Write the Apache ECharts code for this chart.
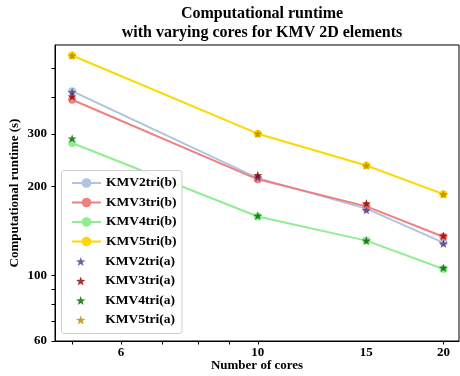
<!DOCTYPE html>
<html><head><meta charset="utf-8">
<script src="https://cdn.jsdelivr.net/npm/echarts@6/dist/echarts.min.js"></script>
<style>html,body{margin:0;padding:0;background:#fff}#c{width:460px;height:376px}</style>
</head><body><div id="c"></div>
<script>
const cores = [5, 10, 15, 20];
const kmv2b = [419, 213, 168, 129];
const kmv3b = [392, 211, 171, 135];
const kmv4b = [280, 158, 131, 105];
const kmv5b = [553, 301, 235, 188];
const kmv2a = [416, 214, 166, 128];
const kmv3a = [402, 218, 175, 136];
const kmv4a = [290, 159, 131, 106];
const kmv5a = [553, 301, 235, 188];
const xTickLabels = [6, 10, 15, 20];
const xTicks = [5, 6, 7, 8, 9, 10, 20];
const yTickLabels = [60, 100, 200, 300];
const yTicks = [60, 70, 80, 90, 100, 200, 300, 400, 500];

const FONT = '"Liberation Serif","Times New Roman",serif';
const STAR = 'path://M0,-10 L2.35,-3.24 L9.51,-3.09 L3.8,1.24 L5.88,8.09 L0,4 L-5.88,8.09 L-3.8,1.24 L-9.51,-3.09 L-2.35,-3.24 Z';
const pair = (xs, ys) => xs.map((x, i) => [x, ys[i]]);

const lineDefs = [
  ['KMV2tri(b)', kmv2b, '#b0c4de'],
  ['KMV3tri(b)', kmv3b, '#f08080'],
  ['KMV4tri(b)', kmv4b, '#90ee90'],
  ['KMV5tri(b)', kmv5b, '#ffd700']
];
const starDefs = [
  ['KMV2tri(a)', kmv2a, '#483d8b'],
  ['KMV3tri(a)', kmv3a, '#8b0000'],
  ['KMV4tri(a)', kmv4a, '#006400'],
  ['KMV5tri(a)', kmv5a, '#b8860b']
];

const series = [];
lineDefs.forEach(([name, ys, c]) => series.push({
  name, type: 'line', data: pair(cores, ys), symbol: 'circle', symbolSize: 8,
  itemStyle: {color: c}, lineStyle: {color: c, width: 2}, animation: false, z: 2
}));
starDefs.forEach(([name, ys, c]) => series.push({
  name, type: 'scatter', data: pair(cores, ys), symbol: STAR, symbolSize: 9, symbolKeepAspect: true,
  itemStyle: {color: c}, animation: false, z: 3
}));

const legendText1 = {fontFamily: FONT, fontWeight: 'bold', fontSize: 13.5, color: '#000', padding: [0, 0, 0, 0]};
const legendText2 = {fontFamily: FONT, fontWeight: 'bold', fontSize: 13.5, color: '#000', padding: [0, 0, 0, 5]};

const chart = echarts.init(document.getElementById('c'), null, {renderer: 'canvas'});
chart.setOption({
  animation: false,
  backgroundColor: '#fff',
  title: {
    text: 'Computational runtime\nwith varying cores for KMV 2D elements',
    left: 257, top: 0, textAlign: 'center',
    textStyle: {fontFamily: FONT, fontWeight: 'bold', fontSize: 16, lineHeight: 18.5, color: '#000'}
  },
  grid: {left: 55, top: 45, width: 404, height: 296, show: true, borderColor: '#000', borderWidth: 1,
         backgroundColor: 'transparent', containLabel: false, outerBoundsMode: 'none'},
  xAxis: {
    type: 'log', min: 4.69, max: 21.2,
    name: 'Number of cores', nameLocation: 'middle', nameGap: 18, nameMoveOverlap: false,
    nameTextStyle: {fontFamily: FONT, fontWeight: 'bold', fontSize: 13, color: '#000'},
    axisLine: {show: true, lineStyle: {color: '#000', width: 1}},
    axisTick: {show: true, length: 3.5, lineStyle: {color: '#000'}, customValues: xTicks},
    axisLabel: {customValues: xTickLabels, fontFamily: FONT, fontWeight: 'bold', fontSize: 13, color: '#000', margin: 5},
    splitLine: {show: false}, minorTick: {show: false}
  },
  yAxis: {
    type: 'log', min: 60, max: 600,
    name: 'Computational runtime (s)', nameLocation: 'middle', nameGap: 34, nameMoveOverlap: false,
    nameTextStyle: {fontFamily: FONT, fontWeight: 'bold', fontSize: 13, color: '#000'},
    axisLine: {show: true, lineStyle: {color: '#000', width: 1}},
    axisTick: {show: true, length: 3.5, lineStyle: {color: '#000'}, customValues: yTicks},
    axisLabel: {customValues: yTickLabels, fontFamily: FONT, fontWeight: 'bold', fontSize: 13, color: '#000', margin: 8},
    splitLine: {show: false}, minorTick: {show: false}
  },
  graphic: [{
    type: 'rect', z: 3, zlevel: 0,
    shape: {x: 61.5, y: 170.5, width: 120.5, height: 163, r: 3},
    style: {fill: 'rgba(255,255,255,0.85)', stroke: '#cccccc', lineWidth: 1}
  }],
  legend: [{
    data: lineDefs.map(d => d[0]), orient: 'vertical', left: 66, top: 171,
    itemWidth: 29, itemHeight: 12, itemGap: 5.5, textStyle: legendText1, z: 5
  }, {
    data: starDefs.map(d => d[0]), orient: 'vertical', left: 71, top: 249.5,
    itemWidth: 29, itemHeight: 9, itemGap: 5.5, textStyle: legendText2, symbolKeepAspect: true, z: 5
  }],
  series
});
</script></body></html>
